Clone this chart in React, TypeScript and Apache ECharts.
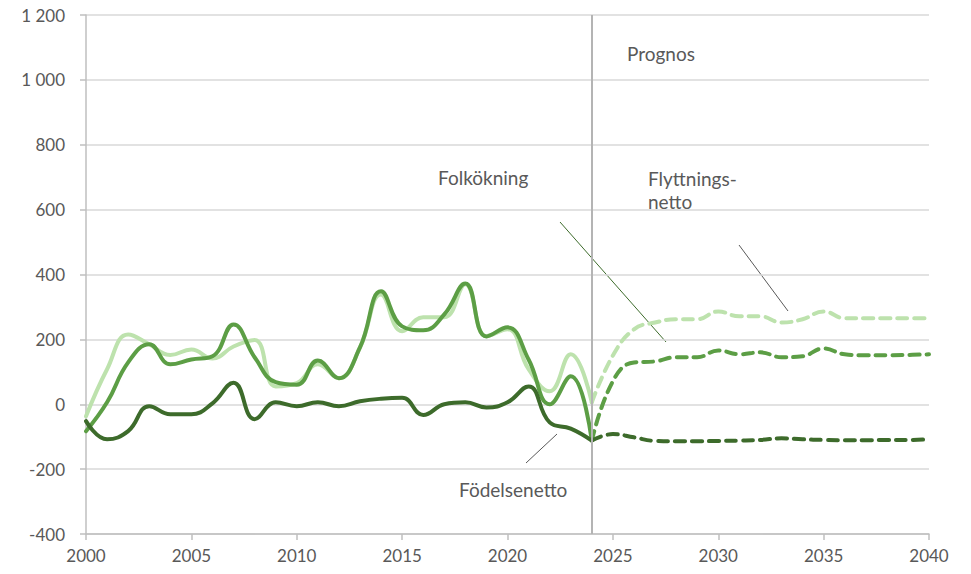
import React, { useEffect, useRef } from "react";
import * as echarts from "echarts";

const histYears = [2000, 2001, 2002, 2003, 2004, 2005, 2006, 2007, 2008, 2009, 2010, 2011, 2012, 2013, 2014, 2015, 2016, 2017, 2018, 2019, 2020, 2021, 2022, 2023, 2024];
const progYears = [2024, 2025, 2026, 2027, 2028, 2029, 2030, 2031, 2032, 2033, 2034, 2035, 2036, 2037, 2038, 2039, 2040];

const flyttHist = [-37, 108, 215, 185, 152, 169, 141, 178, 198, 55, 65, 123, 80, 175, 338, 225, 268, 268, 370, 210, 231, 108, 40, 154, 6];
const folkHist = [-83, 6, 129, 185, 123, 138, 148, 246, 145, 68, 60, 135, 80, 175, 348, 240, 228, 277, 372, 209, 237, 138, 0, 86, -112];
const fodHist = [-52, -108, -83, -6, -31, -31, 3, 66, -46, 6, -6, 6, -6, 9, 17, 20, -33, 0, 6, -10, 6, 55, -56, -75, -112];

const flyttProg = [6, 150, 231, 252, 262, 262, 286, 271, 271, 252, 262, 286, 265, 265, 265, 265, 265];
const folkProg = [-112, 71, 129, 132, 145, 145, 166, 154, 160, 145, 148, 172, 154, 151, 151, 152, 154];
const fodProg = [-112, -92, -102, -113, -114, -114, -113, -112, -110, -105, -108, -110, -111, -111, -110, -110, -108];

const prognosYear = 2024;

const LIGHT = "#bde2ad";
const MEDIUM = "#5c9e45";
const DARK = "#3d6b2b";
const FONT = "Lato, 'Open Sans', sans-serif";
const TEXT = "#595959";

const pairs = (xs: number[], ys: number[]) => xs.map((x, i) => [x, ys[i]]);

export default function App() {
  const ref = useRef<HTMLDivElement>(null);
  useEffect(() => {
    if (!ref.current) return;
    const chart = echarts.init(ref.current, undefined, { renderer: "svg" });
    const solid = (name: string, color: string, data: number[][], extra: any = {}) => ({
      name,
      type: "line",
      data,
      smooth: 0.45,
      symbol: "none",
      lineStyle: { color, width: 4, cap: "round", join: "round" },
      ...extra,
    });
    const dashed = (name: string, color: string, data: number[][]) => ({
      name,
      type: "line",
      data,
      smooth: 0.45,
      symbol: "none",
      lineStyle: { color, width: 4, type: [10, 7], cap: "round", join: "round" },
    });
    const label = (text: string, x: number, y: number) => ({
      type: "text",
      x,
      y,
      style: { text, fontSize: 19, fill: TEXT, fontFamily: FONT, verticalAlign: "middle" },
    });
    chart.setOption({
      animation: false,
      textStyle: { fontFamily: FONT },
      grid: { left: 86, right: 42, top: 15, bottom: 40 },
      xAxis: {
        type: "value",
        min: 2000,
        max: 2040,
        interval: 5,
        axisLine: { show: true, onZero: false, lineStyle: { color: "#bfbfbf", width: 1.5 } },
        axisTick: { show: true, length: 6, lineStyle: { color: "#bfbfbf", width: 1.5 } },
        axisLabel: { color: TEXT, fontSize: 17, margin: 13, fontFamily: FONT, formatter: (v: number) => String(v) },
        splitLine: { show: false },
      },
      yAxis: {
        type: "value",
        min: -400,
        max: 1200,
        interval: 200,
        axisLine: { show: true, lineStyle: { color: "#bfbfbf", width: 1.5 } },
        axisTick: { show: true, length: 6, lineStyle: { color: "#bfbfbf", width: 1.5 } },
        axisLabel: {
          color: TEXT,
          fontSize: 17,
          margin: 21,
          fontFamily: FONT,
          formatter: (v: number) => String(v).replace(/\B(?=(\d{3})+(?!\d))/g, " "),
        },
        splitLine: { show: true, lineStyle: { color: "#d9d9d9", width: 1.5 } },
      },
      series: [
        solid("Flyttningsnetto", LIGHT, pairs(histYears, flyttHist), {
          markLine: {
            silent: true,
            symbol: "none",
            label: { show: false },
            lineStyle: { color: "#b4b4b4", width: 2, type: "solid" },
            data: [{ xAxis: prognosYear }],
          },
        }),
        dashed("Flyttningsnetto prognos", LIGHT, pairs(progYears, flyttProg)),
        solid("Folkökning", MEDIUM, pairs(histYears, folkHist)),
        dashed("Folkökning prognos", MEDIUM, pairs(progYears, folkProg)),
        solid("Födelsenetto", DARK, pairs(histYears, fodHist)),
        dashed("Födelsenetto prognos", DARK, pairs(progYears, fodProg)),
      ],
      graphic: [
        label("Prognos", 627, 53),
        label("Folkökning", 438, 177),
        label("Flyttnings-", 648, 178),
        label("netto", 648, 201),
        label("Födelsenetto", 459, 489),
        { type: "line", shape: { x1: 560, y1: 222, x2: 666, y2: 342 }, style: { stroke: DARK, lineWidth: 1 } },
        { type: "line", shape: { x1: 739, y1: 245, x2: 788, y2: 311 }, style: { stroke: "#595959", lineWidth: 1 } },
        { type: "line", shape: { x1: 526, y1: 463, x2: 557, y2: 434 }, style: { stroke: "#595959", lineWidth: 1 } },
      ],
    });
    return () => chart.dispose();
  }, []);
  return <div ref={ref} style={{ width: 971, height: 574, position: "absolute", left: 0, top: 0 }} />;
}
